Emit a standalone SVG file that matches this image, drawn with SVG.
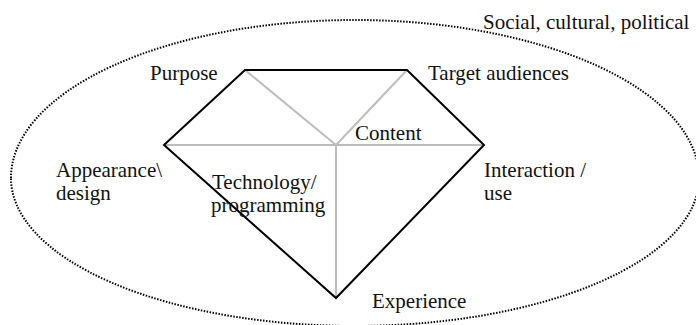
<svg xmlns="http://www.w3.org/2000/svg" width="696" height="325" viewBox="0 0 696 325">
<style>
.t{font-family:"Liberation Serif","Times New Roman",serif;font-size:21px;fill:#111}
.blk{stroke:#000;stroke-width:2;fill:none;stroke-linejoin:miter}
.gry{stroke:#bdbdbd;stroke-width:2;fill:none}
.dot{stroke:#000;stroke-width:2;fill:none;stroke-dasharray:1.5 1.5}
</style>
<rect width="696" height="325" fill="#fff"/>
<g id="context">
<path class="dot" d="M 11,178 A 344 158 0 0 1 699,178 A 344 148 0 0 1 11,178 Z"/>
<text class="t" x="483" y="29">Social, cultural, political</text>
</g>
<g id="connectors">
<line class="gry" x1="245" y1="70" x2="336" y2="145"/>
<line class="gry" x1="407" y1="70" x2="336" y2="145"/>
<line class="gry" x1="164" y1="145" x2="484" y2="145"/>
<line class="gry" x1="336" y1="145" x2="336" y2="298"/>
<polygon class="blk" points="245,70 407,70 484,145 336,298 164,145"/>
</g>
<g id="purpose"><text class="t" x="150" y="80">Purpose</text></g>
<g id="target"><text class="t" x="428" y="80">Target audiences</text></g>
<g id="content"><text class="t" x="355" y="140">Content</text></g>
<g id="appearance"><text class="t" x="56" y="177">Appearance\</text><text class="t" x="56" y="200">design</text></g>
<g id="technology"><text class="t" x="212" y="189">Technology/</text><text class="t" x="211" y="212">programming</text></g>
<g id="interaction"><text class="t" x="484" y="177">Interaction /</text><text class="t" x="484" y="200">use</text></g>
<g id="experience"><text class="t" x="372" y="308">Experience</text></g>
</svg>
